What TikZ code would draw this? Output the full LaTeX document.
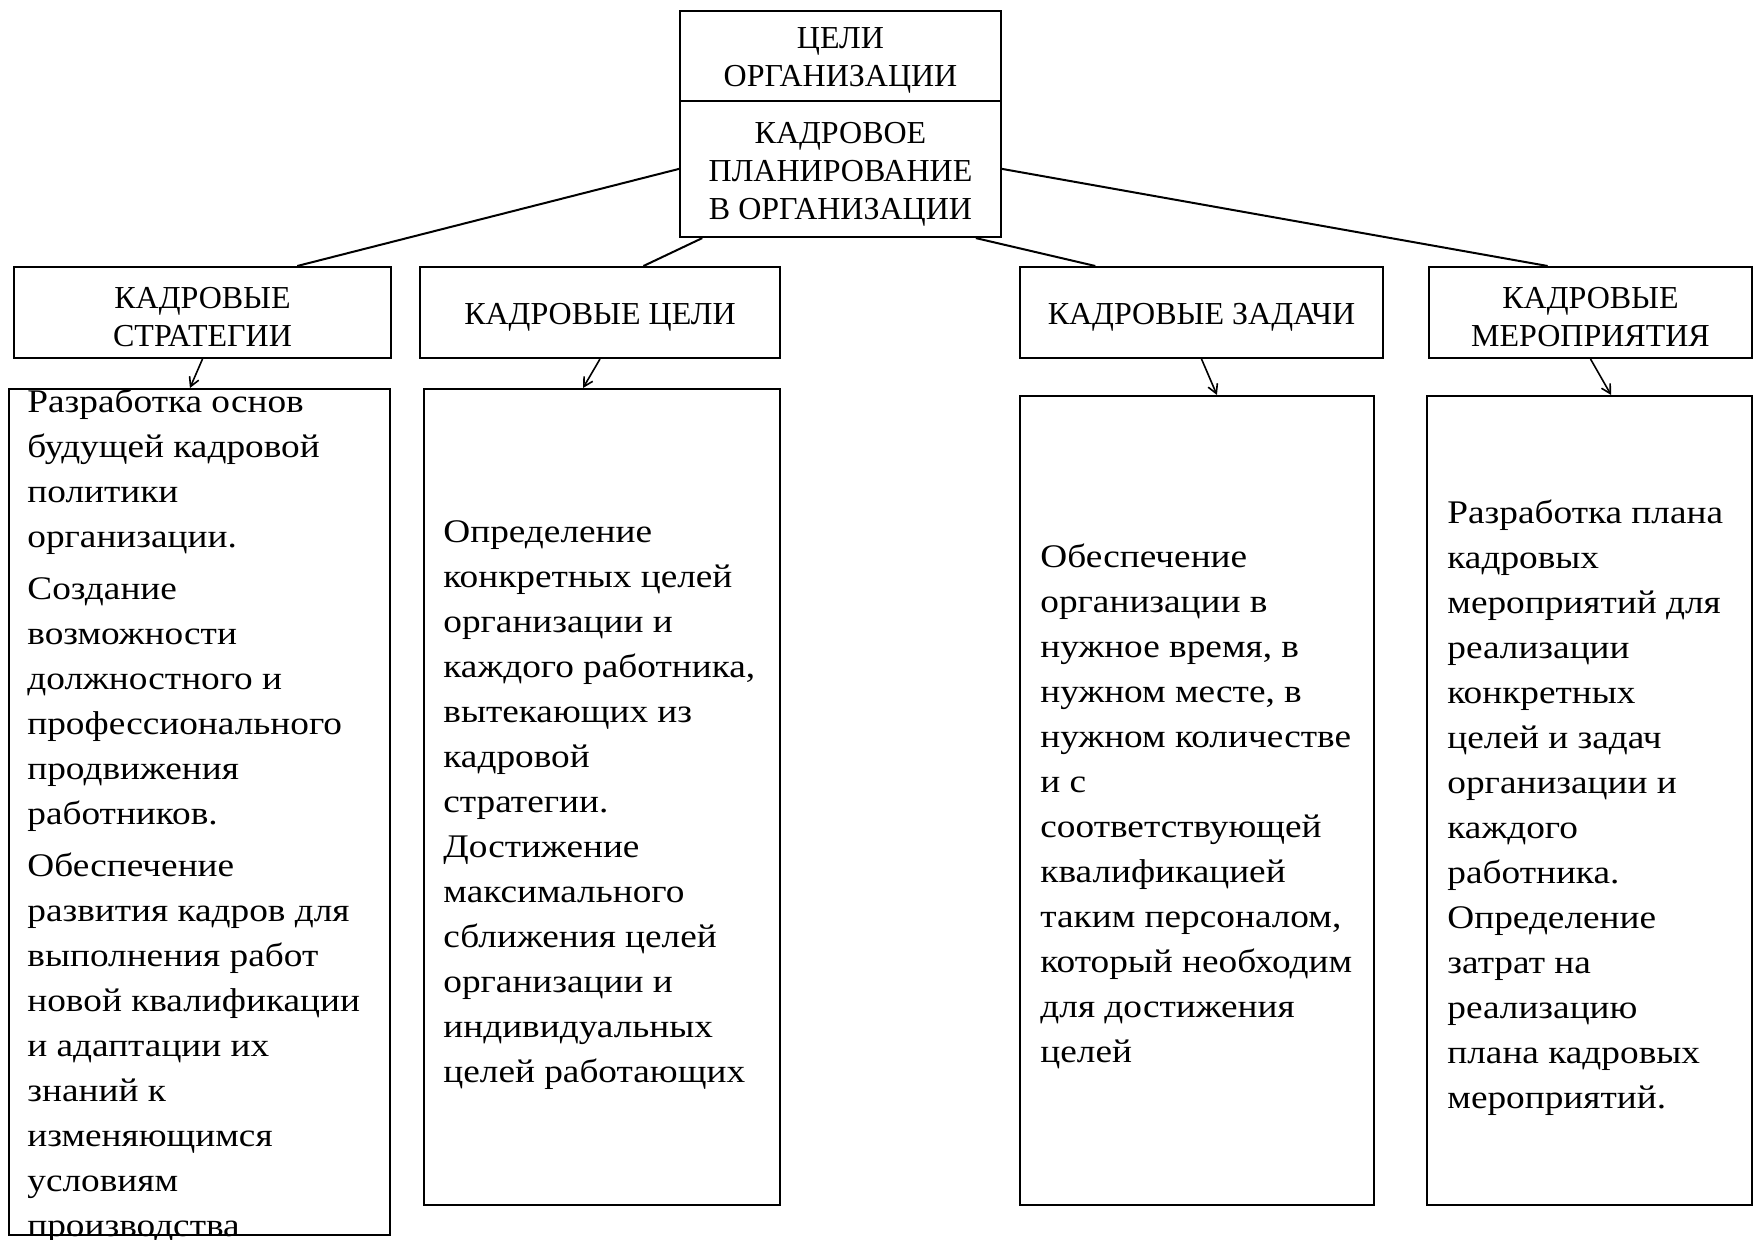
\documentclass[tikz,border=0pt]{standalone}
\usepackage{fontspec}
\setmainfont{Liberation Serif}
\newfontfamily\bodyfont[FakeStretch=1.13]{Liberation Serif}
\usetikzlibrary{arrows.meta,calc}
\begin{document}
\begin{tikzpicture}[x=0.5pt,y=-0.5pt,
  frame/.style={draw,line width=1pt,rectangle,inner sep=0pt},
  head/.style={inner sep=0pt,align=center,yshift=-2.5pt,
    font=\fontsize{16pt}{19pt}\selectfont},
  body/.style={anchor=base west,inner sep=0pt,align=left,
    font=\bodyfont\fontsize{16.5pt}{22.5pt}\selectfont},
  link/.style={line width=1pt},
  arr/.style={line width=0.8pt,-{Straight Barb[length=4.5pt,width=5pt]}}]
\useasboundingbox (0,0) rectangle (1754,1240);
% top boxes
\node[frame,minimum width=160.5pt,minimum height=45pt] (goal) at (840.5,55.7) {};
\node[frame,minimum width=160.5pt,minimum height=68.2pt] (plan) at (840.5,168.9) {};
\node[head] (goalt) at (goal.center) {ЦЕЛИ\\ОРГАНИЗАЦИИ};
\node[head] (plant) at (plan.center) {КАДРОВОЕ\\ПЛАНИРОВАНИЕ\\В ОРГАНИЗАЦИИ};
% heading boxes
\node[frame,minimum width=188.5pt,minimum height=45.5pt] (h1) at (202.5,312.5) {};
\node[frame,minimum width=180pt,minimum height=45.5pt] (h2) at (600,312.5) {};
\node[frame,minimum width=181.5pt,minimum height=45.5pt] (h3) at (1201.5,312.5) {};
\node[frame,minimum width=161.5pt,minimum height=45.5pt] (h4) at (1590.5,312.5) {};
\node[head] (h1t) at (h1.center) {КАДРОВЫЕ\\СТРАТЕГИИ};
\node[head] (h2t) at (h2.center) {КАДРОВЫЕ ЦЕЛИ};
\node[head] (h3t) at (h3.center) {КАДРОВЫЕ ЗАДАЧИ};
\node[head] (h4t) at (h4.center) {КАДРОВЫЕ\\МЕРОПРИЯТИЯ};
% content frames
\node[frame,minimum width=190.5pt,minimum height=423pt] (c1) at (199.5,812) {};
\node[frame,minimum width=178pt,minimum height=408pt] (c2) at (602,797) {};
\node[frame,minimum width=177pt,minimum height=404.5pt] (c3) at (1197,800.5) {};
\node[frame,minimum width=162.5pt,minimum height=404.5pt] (c4) at (1589.5,800.5) {};
% texts (anchored at the baseline of their last line)
\node[body] (t1) at (27,1236) {Разработка основ\\будущей кадровой\\политики\\организации.\\[3.3pt]Создание\\возможности\\должностного и\\профессионального\\продвижения\\работников.\\[3.3pt]Обеспечение\\развития кадров для\\выполнения работ\\новой квалификации\\и адаптации их\\знаний к\\изменяющимся\\условиям\\производства};
\node[body] (t2) at (443,1082) {Определение\\конкретных целей\\организации и\\каждого работника,\\вытекающих из\\кадровой\\стратегии.\\Достижение\\максимального\\сближения целей\\организации и\\индивидуальных\\целей работающих};
\node[body] (t3) at (1040,1062) {Обеспечение\\организации в\\нужное время, в\\нужном месте, в\\нужном количестве\\и с\\соответствующей\\квалификацией\\таким персоналом,\\который необходим\\для достижения\\целей};
\node[body] (t4) at (1447,1108) {Разработка плана\\кадровых\\мероприятий для\\реализации\\конкретных\\целей и задач\\организации и\\каждого\\работника.\\Определение\\затрат на\\реализацию\\плана кадровых\\мероприятий.};
% connectors
\draw[link] (plan.west) -- ($(h1.north west)!0.75!(h1.north east)$);
\draw[link] (plan.east) -- ($(h4.north west)!0.368!(h4.north east)$);
\draw[link] ($(plan.south west)!0.072!(plan.south east)$) -- ($(h2.north west)!0.62!(h2.north east)$);
\draw[link] ($(plan.south west)!0.919!(plan.south east)$) -- ($(h3.north west)!0.209!(h3.north east)$);
\draw[arr] (h1.south) -- ($(c1.north west)!0.475!(c1.north east)$);
\draw[arr] (h2.south) -- ($(c2.north west)!0.447!(c2.north east)$);
\draw[arr] (h3.south) -- ($(c3.north west)!0.556!(c3.north east)$);
\draw[arr] (h4.south) -- ($(c4.north west)!0.566!(c4.north east)$);
\end{tikzpicture}
\end{document}
